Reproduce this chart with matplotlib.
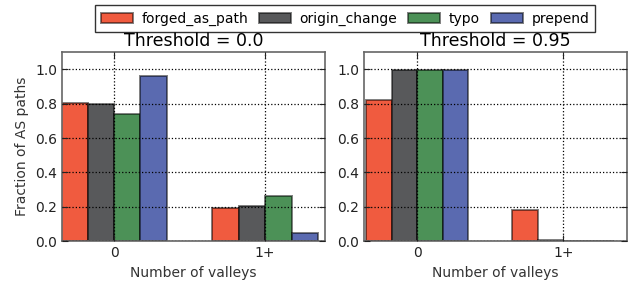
import matplotlib
matplotlib.use("Agg")
import matplotlib.pyplot as plt
import numpy as np

# data
groups = ["0", "1+"]
series = ["forged_as_path", "origin_change", "typo", "prepend"]
thr_00 = [[0.806, 0.196], [0.800, 0.207], [0.742, 0.264], [0.959, 0.047]]
thr_095 = [[0.820, 0.184], [0.998, 0.005], [0.997, 0.002], [0.995, 0.003]]
titles = ["Threshold = 0.0", "Threshold = 0.95"]
colors = ["#F05B3F", "#58595B", "#4C9157", "#5A6AB0"]

plt.rcParams['font.family'] = 'DejaVu Sans'
plt.rcParams['font.size'] = 10

fig, axes = plt.subplots(1, 2, figsize=(6.38, 2.89), dpi=100)
fig.subplots_adjust(left=0.097, right=0.983, bottom=0.165, top=0.82, wspace=0.15)

x = np.arange(len(groups))
w = 0.175
xlims = [(-0.345, 1.395), (-0.362, 1.437)]

for ax, data, title, xl in zip(axes, [thr_00, thr_095], titles, xlims):
    for i, (name, vals) in enumerate(zip(series, data)):
        ax.bar(x - 1.5 * w + i * w, vals, w, color=colors[i], label=name,
               edgecolor=(0, 0, 0, 0.5), linewidth=1.4)
    ax.set_xticks(x)
    ax.set_xticklabels(groups)
    ax.set_ylim(0, 1.1)
    ax.set_xlim(*xl)
    ax.set_yticks([0, 0.2, 0.4, 0.6, 0.8, 1.0])
    ax.grid(True, linestyle=':', color='black', linewidth=0.9)
    ax.set_axisbelow(False)
    ax.tick_params(direction='in', top=True, right=True, length=4, colors='#222222', labelsize=10)
    for sp in ax.spines.values():
        sp.set_color('#666666')
        sp.set_linewidth(1.2)
    ax.set_title(title, fontsize=12.5, pad=4)
    ax.set_xlabel("Number of valleys", fontsize=10, color='#333333')

axes[0].set_ylabel("Fraction of AS paths", fontsize=10, color='#333333')

h, l = axes[0].get_legend_handles_labels()
leg = fig.legend(h, l, loc='upper center', ncol=4, bbox_to_anchor=(0.541, 1.005),
                 fontsize=10, frameon=True, fancybox=False, handlelength=2.3,
                 handleheight=0.8, columnspacing=0.8, borderpad=0.45, handletextpad=0.6)
leg.get_frame().set_edgecolor('black')
leg.get_frame().set_linewidth(1.0)

fig.savefig("out.png", dpi=100)
